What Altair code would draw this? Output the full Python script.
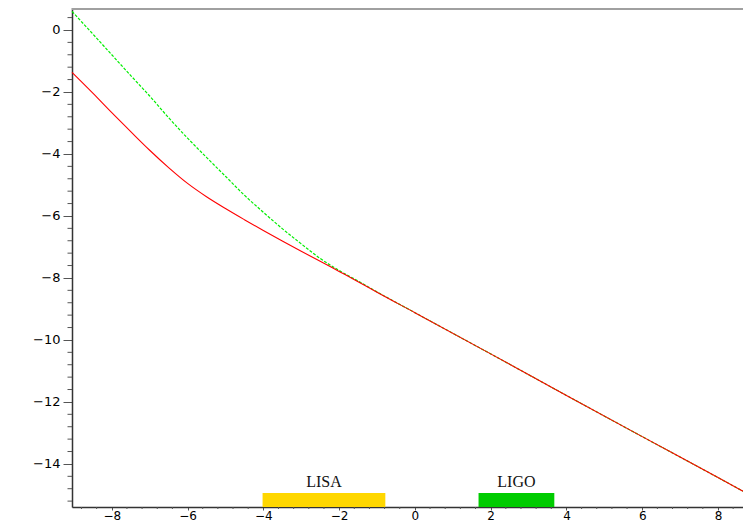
import altair as alt
import pandas as pd

# ---- data ----
x_vals = [-9.05, -8.5, -8.0, -7.5, -7.0, -6.5, -6.0, -5.5, -5.0, -4.5, -4.0, -3.5,
          -3.0, -2.5, -2.0, -1.5, -1.0, 0.0, 2.0, 4.0, 6.0, 8.0, 8.66]
red_y = [-1.37, -2.04, -2.67, -3.28, -3.88, -4.44, -4.95, -5.38, -5.76, -6.12, -6.47, -6.81,
         -7.14, -7.46, -7.79, -8.12, -8.46, -9.12, -10.45, -11.79, -13.12, -14.44, -14.88]
green_y = [0.60, -0.13, -0.80, -1.47, -2.13, -2.83, -3.49, -4.11, -4.72, -5.33, -5.88, -6.41,
           -6.90, -7.37, -7.76, -8.10, -8.45, -9.12, -10.45, -11.79, -13.12, -14.44, -14.88]

band_names = ["LISA", "LIGO"]
band_start = [-4.02, 1.68]
band_end = [-0.78, 3.68]
band_colors = ["#ffd700", "#00cc00"]

x_major = [-8, -6, -4, -2, 0, 2, 4, 6, 8]
y_major = [0, -2, -4, -6, -8, -10, -12, -14]
x_minor = [-8.8, -8.4, -7.6, -7.2, -6.8, -6.4, -5.6, -5.2, -4.8, -4.4, -3.6, -3.2, -2.8, -2.4,
           -1.6, -1.2, -0.8, -0.4, 0.4, 0.8, 1.2, 1.6, 2.4, 2.8, 3.2, 3.6, 4.4, 4.8, 5.2, 5.6,
           6.4, 6.8, 7.2, 7.6, 8.4]
y_minor = [0.8, 0.4, -0.4, -0.8, -1.2, -1.6, -2.4, -2.8, -3.2, -3.6, -4.4, -4.8, -5.2, -5.6,
           -6.4, -6.8, -7.2, -7.6, -8.4, -8.8, -9.2, -9.6, -10.4, -10.8, -11.2, -11.6,
           -12.4, -12.8, -13.2, -13.6, -14.4, -14.8, -15.2]

X_DOM = [-9.05, 8.66]
Y_DOM = [-15.39, 0.935]
W, H = 671, 506
TOP_PAD = -7
BAND_TOP = -14.94
LABEL_Y = -14.74

curves = pd.DataFrame({"x": x_vals, "red": red_y, "green": green_y})
bands = pd.DataFrame({"name": band_names, "x0": band_start, "x1": band_end,
                      "color": band_colors, "y0": [BAND_TOP] * 2, "y1": [Y_DOM[0]] * 2,
                      "xc": [(a + b) / 2 for a, b in zip(band_start, band_end)],
                      "ly": [LABEL_Y] * 2})
xm = pd.DataFrame({"v": x_minor})
ym = pd.DataFrame({"v": y_minor})

xs = alt.Scale(domain=X_DOM, nice=False, zero=False)
ys = alt.Scale(domain=Y_DOM, nice=False, zero=False)

x_axis = alt.Axis(values=x_major, title=None, grid=False, orient="bottom",
                  domainColor="#333333", domainWidth=1.5, tickColor="#555555",
                  tickSize=3, tickWidth=1, labelPadding=0, labelFont="DejaVu Sans",
                  labelFontSize=12, labelColor="#000000", labelFlush=False)
y_axis = alt.Axis(values=y_major, title=None, grid=False, orient="left",
                  domainColor="#333333", domainWidth=1.5, tickColor="#555555",
                  tickSize=9, tickWidth=1, labelPadding=3, labelFont="DejaVu Sans",
                  labelFontSize=13, labelColor="#000000", labelFlush=False)


def X(field):
    return alt.X(field, scale=xs, axis=x_axis)


def Y(field):
    return alt.Y(field, scale=ys, axis=y_axis)


green = alt.Chart(curves).mark_line(color="#00ee00", strokeWidth=1.2,
                                    strokeDash=[3, 1.5], interpolate="monotone").encode(
    x=X("x:Q"), y=Y("green:Q"))
red = alt.Chart(curves).mark_line(color="#ff0000", strokeWidth=1.1,
                                  interpolate="monotone").encode(
    x=X("x:Q"), y=Y("red:Q"))
rects = alt.Chart(bands).mark_rect(strokeWidth=1).encode(
    x=X("x0:Q"), x2="x1:Q", y=Y("y0:Q"), y2="y1:Q",
    color=alt.Color("color:N", scale=None))
labels = alt.Chart(bands).mark_text(font="Liberation Serif", fontSize=16, color="#111111",
                                    baseline="alphabetic", align="center").encode(
    x=X("xc:Q"), y=Y("ly:Q"), text="name:N")
ymin = alt.Chart(ym).mark_rule(color="#555555", strokeWidth=1).encode(
    y=Y("v:Q"), x=alt.value(-4.5), x2=alt.value(0))
xmin = alt.Chart(xm).mark_rule(color="#555555", strokeWidth=1).encode(
    x=X("v:Q"), y=alt.value(H), y2=alt.value(H + 2))
top = alt.Chart(curves).mark_rule(color="#a0a0a0", strokeWidth=1.5).encode(
    x=alt.value(0), x2=alt.value(W), y=alt.value(-TOP_PAD + 0.8))

chart = alt.layer(green, red, rects, labels, ymin, xmin, top).properties(
    width=W, height=H,
    autosize=alt.AutoSizeParams(type="none"),
    padding={"left": 64, "top": TOP_PAD, "right": 0, "bottom": 16},
).configure_view(stroke=None).configure(background="#ffffff")

chart.save("out.html", embed_options={"renderer": "svg", "actions": False})
